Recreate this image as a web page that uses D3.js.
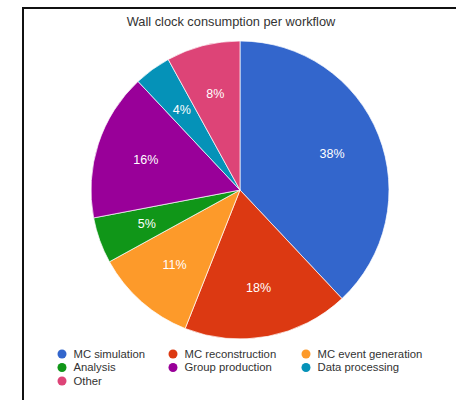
<!DOCTYPE html>
<html>
<head>
<meta charset="utf-8">
<script src="https://cdn.jsdelivr.net/npm/d3@7.9.0/dist/d3.min.js"></script>
<style>
  html, body { margin: 0; padding: 0; background: #fff; }
  svg { display: block; font-family: "Liberation Sans", Arial, Helvetica, sans-serif; }
</style>
</head>
<body>
<div id="chart"></div>
<script>
// data (clockwise from 12 o'clock)
const workflows = ['MC simulation', 'MC reconstruction', 'MC event generation', 'Analysis', 'Group production', 'Data processing', 'Other'];
const shares = [38, 18, 11, 5, 16, 4, 8];
const colors = ['#3366cc', '#dc3912', '#fd9a2a', '#109618', '#990099', '#0592b8', '#dd4477'];

const width = 456;
const height = 400;
const cx = 240, cy = 190, radius = 149;

const svg = d3.select('#chart')
    .append('svg')
    .attr('width', width)
    .attr('height', height);

// frame (only top and left edges show in the crop)
svg.append('path')
    .attr('d', `M23,${height} L23,8 L${width},8`)
    .attr('fill', 'none')
    .attr('stroke', '#111')
    .attr('stroke-width', 2);

svg.append('text')
    .attr('x', 231)
    .attr('y', 26)
    .attr('text-anchor', 'middle')
    .attr('font-size', 12.8)
    .attr('fill', '#333')
    .text('Wall clock consumption per workflow');

const data = workflows.map((name, i) => ({ name, value: shares[i], color: colors[i] }));

const pie = d3.pie().sort(null).value(d => d.value);
const arc = d3.arc().innerRadius(0).outerRadius(radius);
const labelArc = d3.arc().innerRadius(99).outerRadius(99);

const g = svg.append('g').attr('transform', `translate(${cx},${cy})`);
const arcs = pie(data);

g.selectAll('path')
    .data(arcs)
    .join('path')
    .attr('d', arc)
    .attr('fill', d => d.data.color)
    .attr('stroke', '#fff')
    .attr('stroke-width', 0.7);

g.selectAll('text')
    .data(arcs)
    .join('text')
    .attr('transform', d => `translate(${labelArc.centroid(d)})`)
    .attr('text-anchor', 'middle')
    .attr('dy', '0.35em')
    .attr('font-size', 12.5)
    .attr('fill', '#fff')
    .text(d => `${d.data.value}%`);

// legend, three columns
const colX = [62, 173, 306];
const rowY = [354, 367.5, 381];
const legend = svg.append('g');
const items = legend.selectAll('g')
    .data(data)
    .join('g')
    .attr('transform', (d, i) => `translate(${colX[i % 3]},${rowY[Math.floor(i / 3)]})`);

items.append('circle')
    .attr('r', 4.5)
    .attr('fill', d => d.color);

items.append('text')
    .attr('x', 11.5)
    .attr('dy', '0.35em')
    .attr('font-size', 11.3)
    .attr('fill', '#333')
    .text(d => d.name);
</script>
</body>
</html>
